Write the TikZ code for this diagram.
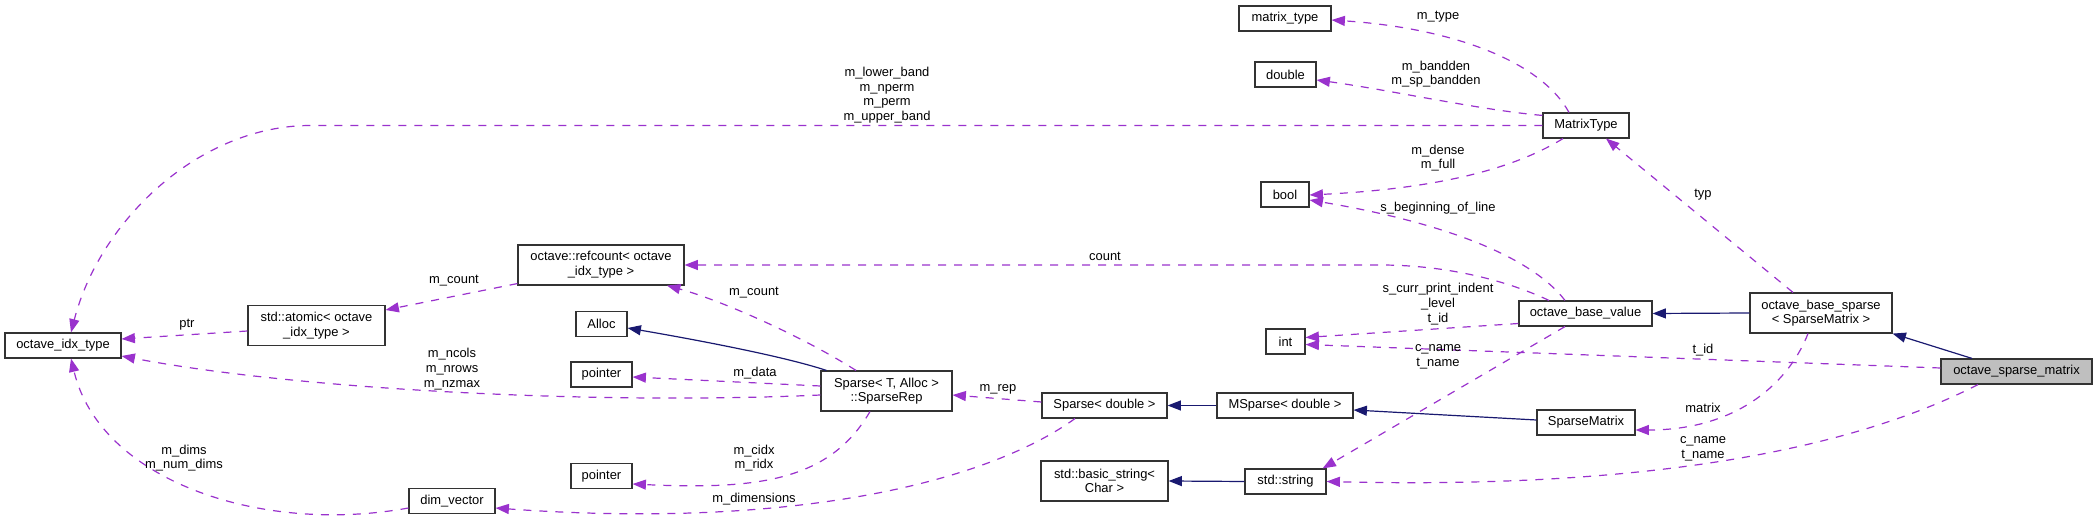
\documentclass[tikz,border=0pt]{standalone}
\usepackage{fontspec}
\setmainfont{Liberation Sans}
\usetikzlibrary{arrows.meta}
\definecolor{edgepurple}{HTML}{9A32CD}
\definecolor{edgenavy}{HTML}{191970}
\definecolor{curgray}{HTML}{BFBFBF}

\begin{document}
\begin{tikzpicture}[x=0.75pt,y=-0.75pt,
    every node/.style={font=\fontsize{9.7}{11}\selectfont},
    cls/.style={draw=black!80,line width=0.85pt,fill=white,minimum height=18.75pt,inner sep=1pt,align=center},
    cls2/.style={cls,minimum height=30pt},
    uses/.style={draw=edgepurple,line width=0.9pt,dash pattern=on 6pt off 6pt,-{Triangle[length=10pt,width=7.5pt]}},
    inherits/.style={draw=edgenavy,line width=0.9pt,-{Triangle[length=10pt,width=7.5pt]}},
    lbl/.style={align=center,inner sep=0pt}]
        \useasboundingbox (0,0) rectangle (2096,523);

        % left side
        \node[cls,minimum width=87pt] (oit) at (63,345.5) {octave\_idx\_type};
        \node[cls2,minimum width=102.75pt] (atomic) at (316.5,325.5) {std::atomic< octave\\\_idx\_type >};
        \node[cls2,minimum width=124.5pt] (refcount) at (601,265) {octave::refcount< octave\\\_idx\_type >};
        \node[cls,minimum width=38.25pt] (alloc) at (601.5,324) {Alloc};
        \node[cls,minimum width=45.75pt] (ptra) at (601.5,374.5) {pointer};
        \node[cls,minimum width=45.75pt] (ptrb) at (601.5,476) {pointer};
        \node[cls,minimum width=64.5pt] (dimvec) at (452,501) {dim\_vector};
        \node[cls2,minimum width=98.25pt] (rep) at (886.5,391) {Sparse< T, Alloc >\\::SparseRep};

        % middle
        \node[cls,minimum width=93.75pt] (spd) at (1104.5,405.5) {Sparse< double >};
        \node[cls,minimum width=102pt] (mspd) at (1285,405.5) {MSparse< double >};
        \node[cls2,minimum width=95.25pt] (bstr) at (1104.5,481) {std::basic\_string<\\Char >};
        \node[cls,minimum width=60.75pt] (str) at (1285.5,481.5) {std::string};
        \node[cls,minimum width=29.25pt] (int) at (1285.5,341.5) {int};
        \node[cls,minimum width=69pt] (mtype) at (1285,18.5) {matrix\_type};
        \node[cls,minimum width=45.75pt] (dbl) at (1285.5,74.5) {double};
        \node[cls,minimum width=36pt] (bool) at (1285,194.5) {bool};

        % right side
        \node[cls,minimum width=64.5pt] (MT) at (1586,125.5) {MatrixType};
        \node[cls,minimum width=99.75pt] (bval) at (1585.5,313.5) {octave\_base\_value};
        \node[cls,minimum width=73.5pt] (spm) at (1586,422.5) {SparseMatrix};
        \node[cls2,minimum width=106.5pt] (bsp) at (1821,313) {octave\_base\_sparse\\< SparseMatrix >};
        \node[cls,fill=curgray,minimum width=113.25pt] (osm) at (2016.5,371.5) {octave\_sparse\_matrix};

        % members
        \draw[uses] (MT.west) -- ++(-1231,0) .. controls (200,125) and (100,220) .. ([shift={(8,0)}]oit.north);
        \draw[uses] ([shift={(0,5.5)}]atomic.west) -- ([shift={(0,-6.5)}]oit.east);
        \draw[uses] ([shift={(0,4)}]rep.west) .. controls (600,405) and (300,390) .. ([shift={(0,10.5)}]oit.east);
        \draw[uses] ([shift={(0,7)}]dimvec.west) .. controls (260,535) and (100,480) .. ([shift={(8,0)}]oit.south);
        \draw[uses] ([shift={(0,-2)}]refcount.south west) -- ([shift={(0,-15.5)}]atomic.east);
        \draw[uses] ([shift={(-30.5,0)}]rep.north) .. controls (800,335) and (720,300) .. ([shift={(66,0)}]refcount.south);
        \draw[uses] ([shift={(-36.5,0)}]bval.north) .. controls (1510,282) and (1450,265) .. (1380,265) -- (refcount.east);
        \draw[uses] ([shift={(0,-5)}]rep.west) -- ([shift={(0,2.5)}]ptra.east);
        \draw[uses] ([shift={(-16.5,0)}]rep.south) .. controls (830,480) and (760,490) .. ([shift={(0,8)}]ptrb.east);
        \draw[uses] ([shift={(-29.5,0)}]spd.south) .. controls (990,480) and (800,530) .. ([shift={(0,7)}]dimvec.east);
        \draw[uses] ([shift={(0,-3.5)}]spd.west) -- ([shift={(0,4)}]rep.east);
        \draw[uses] ([shift={(-20.5,0)}]bval.south) -- ([shift={(-4,0)}]str.north east);
        \draw[uses] ([shift={(-38.5,0)}]osm.south) .. controls (1870,440) and (1680,490) .. (str.east);
        \draw[uses] ([shift={(0,10)}]bval.west) -- ([shift={(0,-4)}]int.east);
        \draw[uses] ([shift={(0,-3.5)}]osm.west) -- ([shift={(0,3)}]int.east);
        \draw[uses] ([shift={(-28,0)}]bsp.north) -- ([shift={(20,0)}]MT.south);
        \draw[uses] ([shift={(-13,0)}]bsp.south) .. controls (1790,380) and (1740,430) .. ([shift={(0,7.5)}]spm.east);
        \draw[uses] ([shift={(-17,0)}]MT.north) .. controls (1540,60) and (1450,28) .. ([shift={(0,1.5)}]mtype.east);
        \draw[uses] ([shift={(0,3)}]MT.north west) .. controls (1480,110) and (1390,90) .. ([shift={(0,5.5)}]dbl.east);
        \draw[uses] ([shift={(-23,0)}]MT.south) .. controls (1520,165) and (1450,188) .. ([shift={(0,0.5)}]bool.east);
        \draw[uses] ([shift={(-20.5,0)}]bval.north) .. controls (1530,255) and (1440,222) .. ([shift={(0,5.5)}]bool.east);

        % base classes
        \draw[inherits] ([shift={(6,0)}]rep.north west) .. controls (780,355) and (680,337) .. ([shift={(0,4)}]alloc.east);
        \draw[inherits] (mspd.west) -- (spd.east);
        \draw[inherits] ([shift={(0,-2.5)}]spm.west) -- ([shift={(0,4.5)}]mspd.east);
        \draw[inherits] (str.west) -- (bstr.east);
        \draw[inherits] (bsp.west) -- (bval.east);
        \draw[inherits] ([shift={(-44.5,0)}]osm.north) -- (bsp.south east);

        % edge labels
        \node[lbl] (l-band) at (887,95) {m\_lower\_band\\m\_nperm\\m\_perm\\m\_upper\_band};
        \node[lbl] (l-ptr) at (187,325) {ptr};
        \node[lbl] (l-nz) at (452,369) {m\_ncols\\m\_nrows\\m\_nzmax};
        \node[lbl] (l-dims) at (184,458) {m\_dims\\m\_num\_dims};
        \node[lbl] (l-cnta) at (454,281) {m\_count};
        \node[lbl] (l-cntb) at (754,293) {m\_count};
        \node[lbl] (l-count) at (1105,256) {count};
        \node[lbl] (l-data) at (755,373) {m\_data};
        \node[lbl] (l-idx) at (754,458) {m\_cidx\\m\_ridx};
        \node[lbl] (l-dimen) at (754,499) {m\_dimensions};
        \node[lbl] (l-rep) at (998,389) {m\_rep};
        \node[lbl] (l-namea) at (1438,356.5) {c\_name\\t\_name};
        \node[lbl] (l-nameb) at (1703,448.5) {c\_name\\t\_name};
        \node[lbl] (l-indent) at (1438,304) {s\_curr\_print\_indent\\\_level\\t\_id};
        \node[lbl] (l-tid) at (1703,350) {t\_id};
        \node[lbl] (l-typ) at (1703,195) {typ};
        \node[lbl] (l-matrix) at (1703,408) {matrix};
        \node[lbl] (l-mtype) at (1438,17) {m\_type};
        \node[lbl] (l-band2) at (1436,74) {m\_bandden\\m\_sp\_bandden};
        \node[lbl] (l-dense) at (1438,158) {m\_dense\\m\_full};
        \node[lbl] (l-bol) at (1438,208) {s\_beginning\_of\_line};
    \end{tikzpicture}
\end{document}
